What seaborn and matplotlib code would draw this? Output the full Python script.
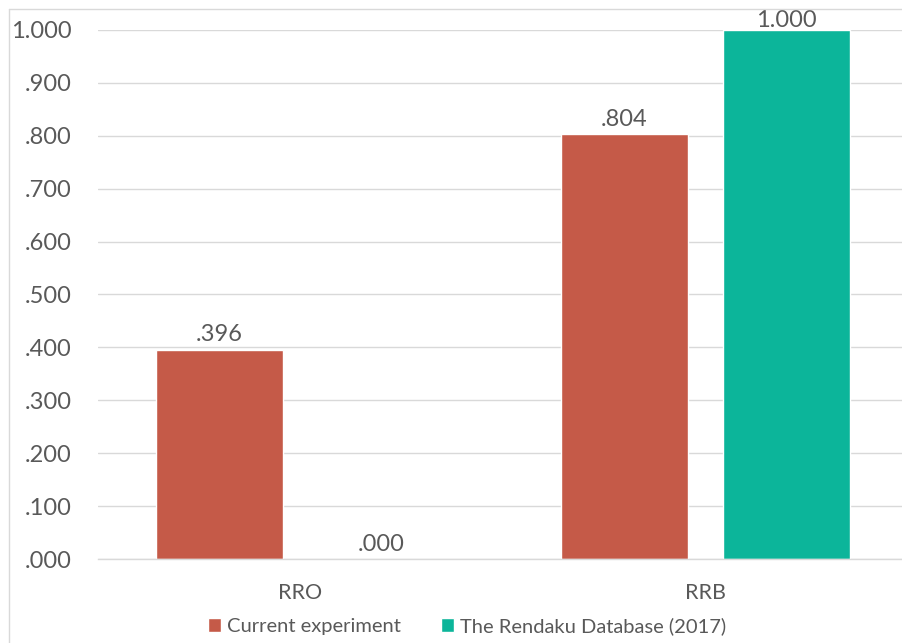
import matplotlib
matplotlib.use("Agg")
import matplotlib.pyplot as plt
from matplotlib.lines import Line2D
import numpy as np
import pandas as pd
import seaborn as sns

# Rendaku rates per compound type
categories = ["RRO", "RRB"]
series_names = ["Current experiment", "The Rendaku Database (2017)"]
current_experiment = [0.396, 0.804]
rendaku_database = [0.000, 1.000]
y_ticks = [0.0, 0.1, 0.2, 0.3, 0.4, 0.5, 0.6, 0.7, 0.8, 0.9, 1.0]

RED = "#C55A48"
TEAL = "#0CB59A"
TEXT = "#595959"
GRID = "#D9D9D9"

df = pd.DataFrame({
    "category": categories * 2,
    "source": [series_names[0]] * 2 + [series_names[1]] * 2,
    "value": current_experiment + rendaku_database,
})

sns.set_theme(style="white")
plt.rcParams["font.family"] = ["Lato", "DejaVu Sans"]

W, H = 903, 643
fig = plt.figure(figsize=(W / 100, H / 100), dpi=100)
ax = fig.add_axes([98 / W, (H - 559) / H, 810 / W, 529 / H])

sns.barplot(
    data=df, x="category", y="value", hue="source",
    order=categories, hue_order=series_names,
    palette=[RED, TEAL], saturation=1, width=0.8, gap=0.21,
    ax=ax, legend=True,
)

ax.set_ylim(0, 1.0)
ax.set_yticks(y_ticks)
ax.set_yticklabels([f"{t:.3f}".lstrip("0") if t < 1 else f"{t:.3f}" for t in y_ticks])
ax.yaxis.grid(True, color=GRID, linewidth=1)
ax.set_axisbelow(True)
ax.set_xlabel("")
ax.set_ylabel("")

for side in ["left", "right", "top"]:
    ax.spines[side].set_visible(False)
ax.spines["bottom"].set_color(GRID)
ax.spines["bottom"].set_linewidth(1)

ax.tick_params(axis="y", length=0, pad=19, labelsize=17, labelcolor=TEXT)
ax.tick_params(axis="x", length=0, pad=17, labelsize=15.5, labelcolor=TEXT)

def fmt(v):
    s = f"{v:.3f}"
    return s[1:] if s.startswith("0") else s

for container in ax.containers:
    vals = container.datavalues
    anns = ax.bar_label(container, labels=[fmt(v) for v in vals], padding=3,
                        fontsize=17, color=TEXT)
    # keep the label of a full-height bar tucked against the plot top
    for v, a in zip(vals, anns):
        if v >= 1.0:
            a.xyann = (0, -1)

handles, labels = ax.get_legend_handles_labels()
ax.get_legend().remove()
fig.legend(handles, labels, loc="center", ncol=2, frameon=False,
           bbox_to_anchor=(467 / W, 1 - 626 / H), fontsize=14.5,
           labelcolor=TEXT, handlelength=0.65, handleheight=0.65,
           handletextpad=0.3, columnspacing=2.0)

# light outer frame on the left and top edges
x0 = 9.5 / W
y0 = 1 - 8.5 / H
fig.add_artist(Line2D([x0, x0], [0, y0], transform=fig.transFigure, color=GRID, lw=1))
fig.add_artist(Line2D([x0, 1], [y0, y0], transform=fig.transFigure, color=GRID, lw=1))

fig.savefig("out.png", dpi=100, facecolor="white")
